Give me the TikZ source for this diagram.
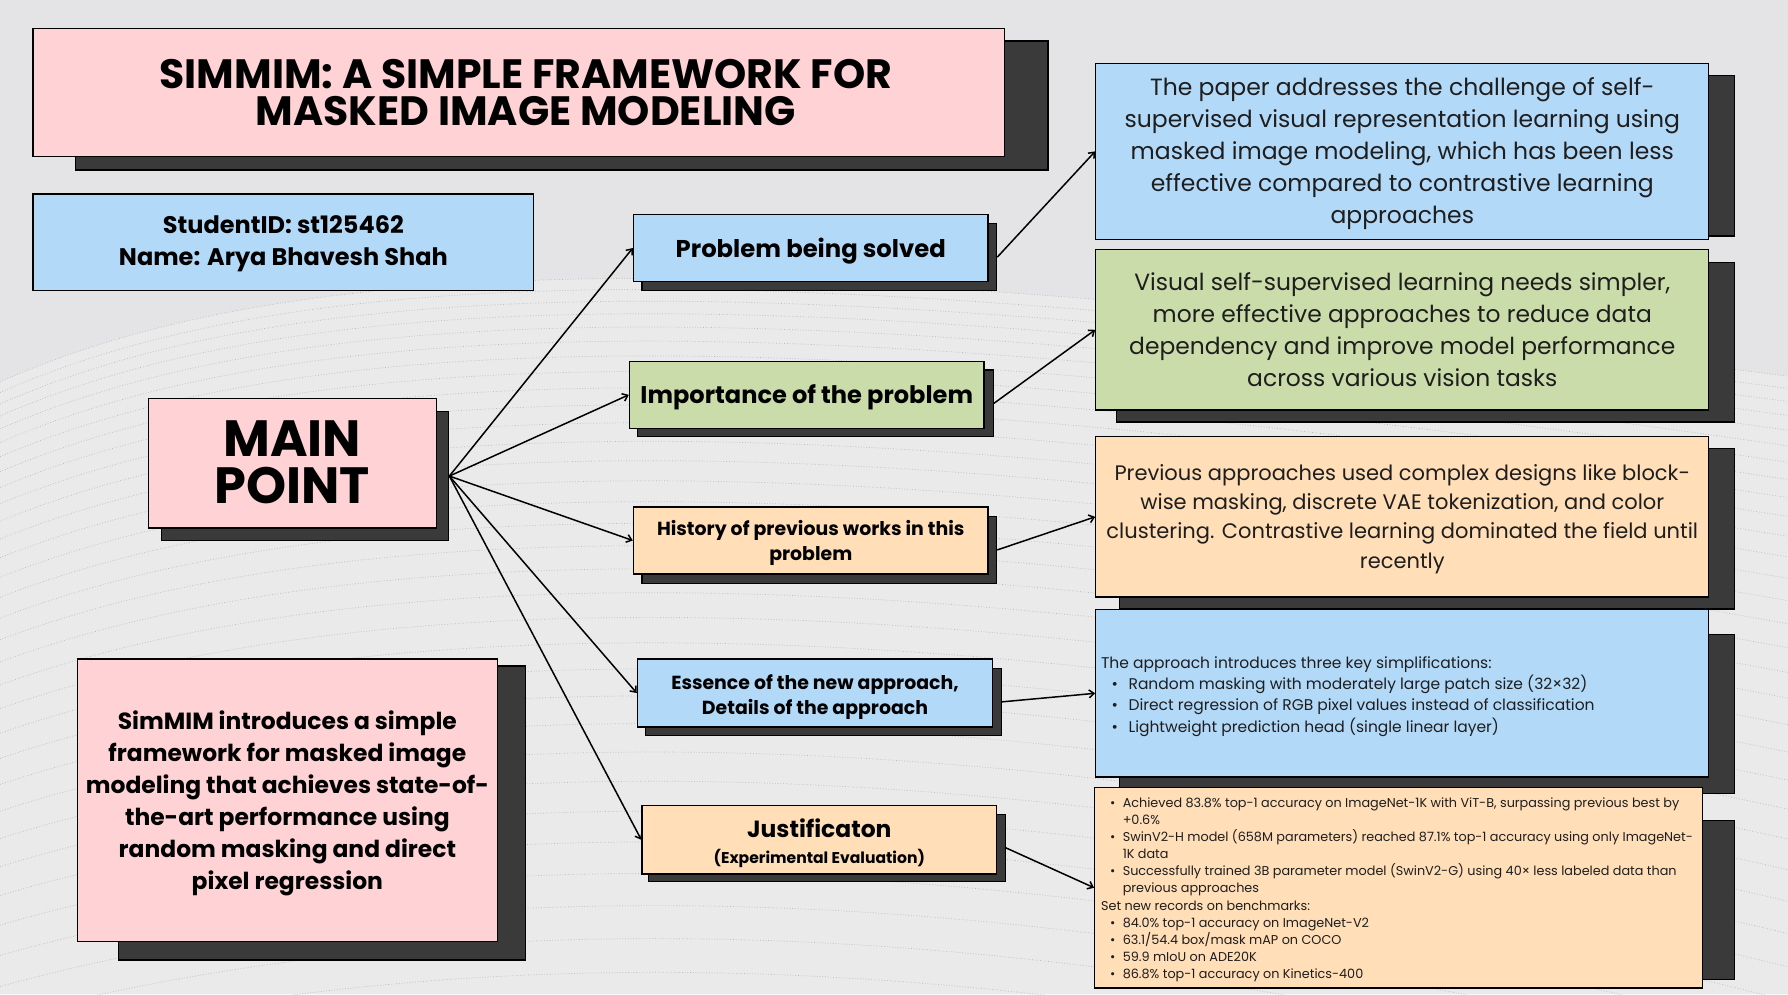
\documentclass[tikz,border=0pt]{standalone}
\usepackage{fontspec}
\setmainfont{Poppins}
\usetikzlibrary{fit,arrows.meta}
\definecolor{bgc}{HTML}{E4E4E6}
\definecolor{bgl}{HTML}{EAEAEB}
\definecolor{meshc}{HTML}{B8B8BA}
\definecolor{pinkc}{HTML}{FFD3D6}
\definecolor{bluec}{HTML}{B3D9F9}
\definecolor{greenc}{HTML}{C9DCA9}
\definecolor{peachc}{HTML}{FFDEB8}
\definecolor{shadc}{HTML}{3A3A3A}
\definecolor{txtc}{HTML}{1E1E1E}
\newcommand\fs[2]{\fontsize{#1}{#2}\selectfont}
\newcommand\bA[1]{\makebox[27.5pt][l]{\hspace{10.5pt}\textbullet}#1}
\newcommand\bB[1]{\makebox[21.7pt][l]{\hspace{9pt}\textbullet}#1}
\begin{document}
\begin{tikzpicture}[x=1.1403pt,y=-1.1403pt,
  shadowbox/.style={draw=black,line width=1.3pt,fill=shadc,inner sep=0pt},
  cbox/.style={draw=black,line width=1.3pt,inner sep=0pt},
  headtxt/.style={align=center,text=black,inner sep=0pt},
  bodytxt/.style={align=center,text=txtc,inner sep=0pt},
  conn/.style={line width=1.5pt,-{Straight Barb[length=5pt,width=8pt]}},
]
\fill[bgc] (0,0) rectangle (1568,872);
\useasboundingbox (0,0) rectangle (1568,872);
% background mesh
\fill[bgl] (0,335) .. controls (300,200) and (800,230) .. (1568,330) -- (1568,872) -- (0,872) -- cycle;
\begin{scope}
\clip (0,0) rectangle (1568,872);
\foreach \i in {0,...,34} {
  \pgfmathsetmacro\o{\i*9+\i*\i*0.32}
  \draw[meshc,line width=0.7pt,dotted] (0,{335+\o}) .. controls (300,{200+\o*1.1}) and (800,{230+\o*0.95}) .. (1568,{330+\o*1.15});
}
\end{scope}

% ---- title
\node[shadowbox,fit={(66,36) (919,149)}] (titlesh) {};
\node[cbox,fill=pinkc,fit={(29,25) (881,137)}] (title) {};
\node[headtxt,font=\bfseries\fs{41}{37.6}] (titletxt) at ([xshift=7pt]title.center) {SIMMIM: A SIMPLE FRAMEWORK FOR\\MASKED IMAGE MODELING};

% ---- student
\node[cbox,fill=bluec,fit={(29,170) (468,255)}] (stud) {};
\node[headtxt,font=\bfseries\fs{24}{32}] (studtxt) at ([yshift=-1pt]stud.center) {StudentID: st125462\\Name: Arya Bhavesh Shah};

% ---- main point
\node[shadowbox,fit={(141.5,361) (393.5,474)}] (mainsh) {};
\node[cbox,fill=pinkc,fit={(130,349.5) (382.5,463)}] (main) {};
\node[headtxt,font=\bfseries\fs{51}{47}] (maintxt) at ([yshift=1pt]main.center) {MAIN\\POINT};

% ---- summary
\node[shadowbox,fit={(104,584) (461,842)}] (sumsh) {};
\node[cbox,fill=pinkc,fit={(68,578) (436,825.5)}] (sum) {};
\node[headtxt,font=\bfseries\fs{23.4}{32}] (sumtxt) at ([yshift=-3pt]sum.center) {SimMIM introduces a simple\\framework for masked image\\modeling that achieves state-of-\\the-art performance using\\random masking and direct\\pixel regression};

% ---- middle column
\node[shadowbox,fit={(563,196) (874,255)}] (probsh) {};
\node[cbox,fill=bluec,fit={(555.5,188) (866.5,247)}] (prob) {};
\node[headtxt,font=\bfseries\fs{24.3}{28}] (probtxt) at ([yshift=-3pt]prob.center) {Problem being solved};

\node[shadowbox,fit={(559,324.5) (871,383)}] (impsh) {};
\node[cbox,fill=greenc,fit={(552,317) (863,375.5)}] (imp) {};
\node[headtxt,font=\bfseries\fs{24.1}{28}] (imptxt) at ([yshift=-2.5pt]imp.center) {Importance of the problem};

\node[shadowbox,fit={(563,453) (874,511.5)}] (histsh) {};
\node[cbox,fill=peachc,fit={(555.5,444.5) (866.5,503.5)}] (hist) {};
\node[headtxt,font=\bfseries\fs{18.9}{25}] (histtxt) at ([yshift=-2.5pt]hist.center) {History of previous works in this\\problem};

\node[shadowbox,fit={(566,586) (878,645)}] (esssh) {};
\node[cbox,fill=bluec,fit={(559,578) (870.5,637.5)}] (ess) {};
\node[headtxt,font=\bfseries\fs{18.9}{25}] (esstxt) at ([yshift=-4pt]ess.center) {Essence of the new approach,\\Details of the approach};

\node[shadowbox,fit={(569,714) (881.5,773)}] (justsh) {};
\node[cbox,fill=peachc,fit={(563,706.5) (874,766.5)}] (just) {};
\node[headtxt,font=\bfseries\fs{23.4}{26}] (justtxt) at ([yshift=-3.5pt]just.center) {Justificaton\\{\fs{15.6}{26}(Experimental Evaluation)}};

% ---- right column
\node[shadowbox,fit={(985,66) (1521,207)}] (r1sh) {};
\node[cbox,fill=bluec,fit={(961,55.5) (1498.5,210)}] (r1) {};
\node[bodytxt,font=\fs{23.5}{32}] (r1txt) at ([yshift=-2pt]r1.center) {The paper addresses the challenge of self-\\supervised visual representation learning using\\masked image modeling, which has been less\\effective compared to contrastive learning\\approaches};

\node[shadowbox,fit={(979,230.5) (1521,370)}] (r2sh) {};
\node[cbox,fill=greenc,fit={(961,219) (1498.5,359.5)}] (r2) {};
\node[bodytxt,font=\fs{23.4}{32}] (r2txt) at (r2.center) {Visual self-supervised learning needs simpler,\\more effective approaches to reduce data\\dependency and improve model performance\\across various vision tasks};

\node[shadowbox,fit={(982,393.5) (1521,534)}] (r3sh) {};
\node[cbox,fill=peachc,fit={(961,383) (1498.5,523.5)}] (r3) {};
\node[bodytxt,font=\fs{21}{29.3}] (r3txt) at ([yshift=-2pt]r3.center) {Previous approaches used complex designs like block-\\wise masking, discrete VAE tokenization, and color\\clustering. Contrastive learning dominated the field until\\recently};

\node[shadowbox,fit={(982,556.5) (1521,696)}] (r4sh) {};
\node[cbox,fill=bluec,fit={(961,534.5) (1498.5,681.5)}] (r4) {};
\node[bodytxt,align=left,anchor=west,font=\fs{15.5}{21.3}] (r4txt) at ([xshift=5.7pt,yshift=-3pt]r4.west) {The approach introduces three key simplifications:\\
\bA{Random masking with moderately large patch size (32×32)}\\
\bA{Direct regression of RGB pixel values instead of classification}\\
\bA{Lightweight prediction head (single linear layer)}};

\node[shadowbox,fit={(982,719.5) (1521,859)}] (r5sh) {};
\node[cbox,fill=peachc,fit={(960,690.5) (1493,866.5)}] (r5) {};
\node[bodytxt,align=left,anchor=west,font=\fs{12.8}{17.1}] (r5txt) at ([xshift=6.8pt,yshift=-2pt]r5.west) {\bB{Achieved 83.8\% top-1 accuracy on ImageNet-1K with ViT-B, surpassing previous best by}\\
\hspace*{21.7pt}+0.6\%\\
\bB{SwinV2-H model (658M parameters) reached 87.1\% top-1 accuracy using only ImageNet-}\\
\hspace*{21.7pt}1K data\\
\bB{Successfully trained 3B parameter model (SwinV2-G) using 40× less labeled data than}\\
\hspace*{21.7pt}previous approaches\\
Set new records on benchmarks:\\
\bB{84.0\% top-1 accuracy on ImageNet-V2}\\
\bB{63.1/54.4 box/mask mAP on COCO}\\
\bB{59.9 mIoU on ADE20K}\\
\bB{86.8\% top-1 accuracy on Kinetics-400}};

% ---- connectors
\draw[conn] (mainsh.east) -- (prob.west);
\draw[conn] (mainsh.east) -- (imp.west);
\draw[conn] (mainsh.east) -- (hist.west);
\draw[conn] (mainsh.east) -- (ess.west);
\draw[conn] (mainsh.east) -- (just.west);
\draw[conn] (probsh.east) -- (r1.west);
\draw[conn] (impsh.east) -- (r2.west);
\draw[conn] (histsh.east) -- (r3.west);
\draw[conn] (esssh.east) -- (r4.west);
\draw[conn] (justsh.east) -- (r5.west);
\end{tikzpicture}
\end{document}
